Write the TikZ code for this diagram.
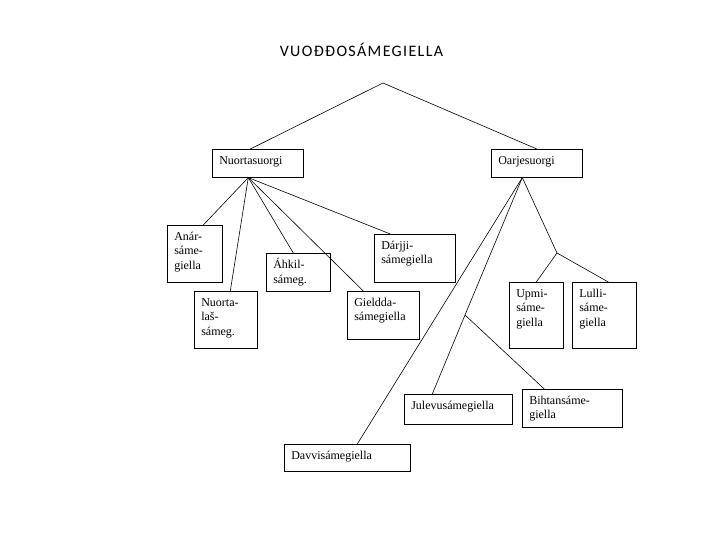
\documentclass[tikz,border=0pt]{standalone}
\usepackage{fontspec}
\setmainfont{Liberation Serif}
\newfontfamily\titlefont[LetterSpace=8.5]{Carlito}
\usepackage{tikz}
\newcommand{\boxtext}[3]{\parbox[t][#2][t]{#1}{\raggedright\strut #3}}
\tikzstyle{lang_box} = [
    rectangle, 
    draw=black, 
    anchor=north west, 
    inner xsep=7pt, 
    inner ysep=5pt, % text sits near the top
    line width=0.6pt, 
    font=\fontsize{12}{14.5}\selectfont
]
\tikzstyle{title_text} = [
    anchor=base, 
    inner sep=0pt, 
    font=\titlefont\fontsize{16}{19}\selectfont
]
\tikzstyle{branch} = [
    draw=black, 
    line width=0.6pt
]
\begin{document}
\begin{tikzpicture}[
    x=1pt, 
    y=-1pt
] 
\useasboundingbox (0,0) rectangle (720,540);
\node [title_text] (title) at (361.5,57) {VUOĐĐOSÁMEGIELLA};
% main branches
\node [lang_box] (nuorta) at (212,149) {\boxtext{77pt}{18pt}{Nuortasuorgi}};
\node [lang_box] (oarje) at (491,149) {\boxtext{77pt}{18pt}{Oarjesuorgi}};
% east
\node [lang_box] (anar) at (167,225) {\boxtext{41pt}{47pt}{Anár-\\sáme-\\giella}};
\node [lang_box] (nuortalas) at (194,291) {\boxtext{49pt}{47pt}{Nuorta-\\laš-\\sámeg.}};
\node [lang_box] (ahkil) at (266,253) {\boxtext{50pt}{28pt}{Áhkil-\\sámeg.}};
\node [lang_box] (darjji) at (374,234) {\boxtext{67pt}{38pt}{Dárjji-\\sámegiella}};
\node [lang_box] (gieldda) at (347,291) {\boxtext{58pt}{38pt}{Gieldda-\\sámegiella}};
% west
\node [lang_box] (upmi) at (509,282) {\boxtext{40pt}{56pt}{Upmi-\\sáme-\\giella}};
\node [lang_box] (lulli) at (572,282) {\boxtext{50pt}{56pt}{Lulli-\\sáme-\\giella}};
\node [lang_box] (julevu) at (404,394) {\boxtext{94pt}{20pt}{Julevusámegiella}};
\node [lang_box] (bihtan) at (522,389) {\boxtext{86pt}{28pt}{Bihtansáme-\\giella}};
\node [lang_box] (davvi) at (284,444) {\boxtext{112pt}{17pt}{Davvisámegiella}};
% joints
\coordinate (root) at (383,83);
\coordinate (nuorta_src) at ([xshift=-9.5pt]nuorta.south);
\coordinate (oarje_src) at ([xshift=-14.5pt]oarje.south);
\coordinate (upmi_fork) at (557,253);
\coordinate (bihtan_fork) at (465,315);
\path [branch] (root) -- ([xshift=-7.5pt]nuorta.north);
\path [branch] (root) -- (oarje.north);
\path [branch] (nuorta_src) -- ([xshift=8.5pt]anar.north);
\path [branch] (nuorta_src) -- ([xshift=4.5pt]nuortalas.north);
\path [branch] (nuorta_src) -- ([xshift=-5pt]ahkil.north);
\path [branch] (nuorta_src) -- ([xshift=-20pt]gieldda.north);
\path [branch] (nuorta_src) -- ([xshift=-24.5pt]darjji.north);
\path [branch] (oarje_src) -- ([xshift=10pt]davvi.north);
\path [branch] (oarje_src) -- (bihtan_fork) -- ([xshift=-26pt]julevu.north);
\path [branch] (bihtan_fork) -- ([xshift=-28pt]bihtan.north);
\path [branch] (oarje_src) -- (upmi_fork);
\path [branch] (upmi_fork) -- (upmi.north);
\path [branch] (upmi_fork) -- ([xshift=4pt]lulli.north);
\end{tikzpicture}
\end{document}
